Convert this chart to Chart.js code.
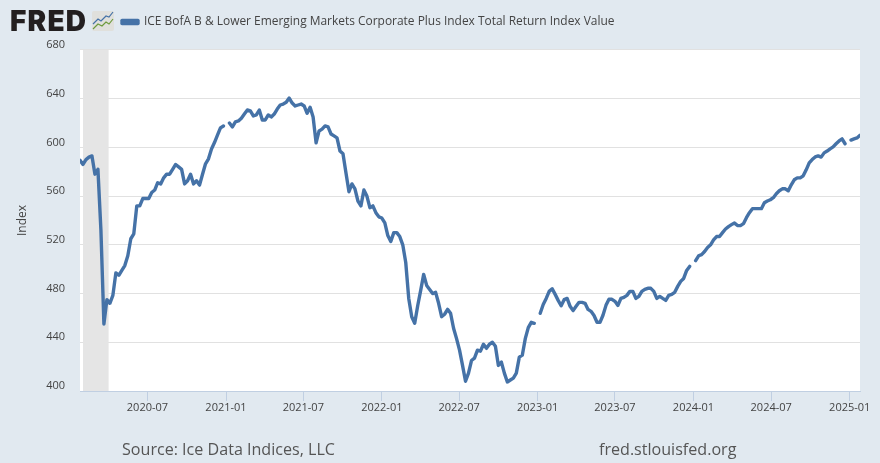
<!DOCTYPE html>
<html>
<head>
<meta charset="utf-8">
<title>ICE BofA B & Lower Emerging Markets Corporate Plus Index</title>
<script src="https://cdn.jsdelivr.net/npm/chart.js@4"></script>
<style>
  html, body { margin: 0; padding: 0; background: #e1e9f0; }
  #wrap { position: relative; width: 880px; height: 463px; overflow: hidden; font-family: "Open Sans", sans-serif; }
  canvas { position: absolute; left: 0; top: 0; }
  #logo { position: absolute; left: 10px; top: 1px; font: 900 28px/40px Inter, sans-serif; color: #231f20; letter-spacing: 1.2px; }
  #icon { position: absolute; left: 92px; top: 11px; }
  .foot { position: absolute; top: 438px; font-size: 16.1px; line-height: 22px; color: #555; }
</style>
</head>
<body>
<div id="wrap">
  <canvas id="chart" width="880" height="463"></canvas>
  <div id="logo">FRED</div>
  <svg id="icon" width="22" height="20">
    <rect width="22" height="20" rx="2" fill="#e0e0dc"/>
    <polyline points="1,13 6,8 9,10 14,5 17,6 21,1" fill="none" stroke="#4572a7" stroke-width="1.2"/>
    <polyline points="1,18 6,13 10,15 14,11 17,13 21,8" fill="none" stroke="#6d9a3c" stroke-width="1.2"/>
  </svg>
  <div class="foot" style="left:122px">Source: Ice Data Indices, LLC</div>
  <div class="foot" style="left:599px">fred.stlouisfed.org</div>
</div>
<script>
const serieNombre = "ICE BofA B & Lower Emerging Markets Corporate Plus Index Total Return Index Value";
const primeraSemana = "2020-01-25";
const ultimaSemana = "2025-01-25";
const recesion = ["2020-02-01", "2020-04-01"];
const etiquetasX = ["2020-07", "2021-01", "2021-07", "2022-01", "2022-07", "2023-01", "2023-07", "2024-01", "2024-07", "2025-01"];
const etiquetasY = [400, 440, 480, 520, 560, 600, 640, 680];

// valores semanales (null = hueco en la serie)
const valores = [
  589.5, 586, 590, 592, 593, 578, 582, 532, 455, 475,
  472, 478.5, 497, 495, 499, 503, 511, 525, 529, 552,
  552, 558, 558, 558, 563, 565, 571, 570, 575, 578,
  578, 582, 586, 584, 582, 570, 572.6, 578, 570, 572.6,
  569, 578, 586.5, 590.6, 598.7, 604, 610, 616, 617.6, null,
  620, 616.8, 621, 621.7, 624, 627.4, 630.7, 630, 625.8, 626.6,
  630.7, 622.5, 622.5, 626.6, 625, 627.4, 631.5, 634.8, 635.6, 637,
  640.5, 636.4, 634, 634.8, 635.6, 634, 628, 633, 625, 603.7,
  613.5, 615, 617.6, 616.8, 611, 609.4, 607.8, 597, 594.7, 579,
  563.6, 570, 566, 556, 552, 565, 560, 550.5, 552, 546.4,
  543, 542, 538, 527.6, 522.7, 530, 530, 526.8, 520, 505.5,
  476, 461, 455.6, 470, 482.6, 495.7, 486.7, 483.4, 480, 481,
  472, 461, 463, 467, 463.8, 451.5, 443, 433.5, 421, 408,
  414.7, 425, 427, 433.5, 432.7, 438.4, 435, 438.4, 440, 436.8,
  421, 423.7, 414.7, 407.4, 409, 410.6, 414.7, 427.8, 429.4, 443,
  452, 456.4, 455.6, null, 463.8, 471, 476, 481.8, 484, 479.3,
  474.4, 470, 475, 476, 469.5, 466, 469.5, 472.8, 472.8, 472,
  467, 465.4, 462, 456.4, 456.4, 462.2, 470.3, 475.3, 475.3, 473.6,
  470.3, 476, 476.9, 478.5, 481.8, 481.8, 476, 477.7, 481.8, 483.4,
  484.3, 484.3, 481.8, 476, 477.7, 476, 474.4, 478.5, 479.3, 481,
  485.9, 490, 492.4, 499, 502.3, null, 507, 511, 512, 514.5,
  517.8, 520, 524, 526.8, 526.8, 530, 533, 535, 536.6, 538,
  535.8, 535.8, 537.4, 542.3, 546.4, 549.7, 549.7, 549.7, 549.7, 554.6,
  556, 557, 558.7, 562, 564.4, 566, 566, 564.4, 569.3, 573.4,
  575, 575, 576.7, 581.6, 587.3, 590, 592.2, 593, 592, 595.5,
  597, 598.8, 600.4, 603, 605.3, 607, 603, null, 606, 607,
  607.8, 610
];

const DIA = 86400000;
const aDias = s => Date.parse(s.length === 7 ? s + "-01" : s) / DIA;

const inicio = aDias(primeraSemana);
const puntos = valores.map((v, i) => ({ x: inicio + i * 7, y: v }));

// fondo blanco del area, banda de recesion y leyenda en su sitio
const fondoPlugin = {
  id: "fondo",
  beforeDraw(chart) {
    const a = chart.chartArea;
    chart.ctx.fillStyle = "#ffffff";
    chart.ctx.fillRect(a.left, a.top, a.right - a.left, a.bottom - a.top);
  },
  beforeDatasetsDraw(chart) {
    const a = chart.chartArea, xs = chart.scales.x;
    const x1 = xs.getPixelForValue(aDias(recesion[0]));
    const x2 = xs.getPixelForValue(aDias(recesion[1]));
    chart.ctx.fillStyle = "#e5e5e5";
    chart.ctx.fillRect(x1, a.top, x2 - x1, a.bottom - a.top);
  },
  afterLayout(chart) {
    chart.legend.left = 112;
    chart.legend.top = 6;
  }
};

new Chart(document.getElementById("chart"), {
  type: "line",
  data: {
    datasets: [{
      label: serieNombre,
      data: puntos,
      borderColor: "#4572a7",
      backgroundColor: "#4572a7",
      borderWidth: 3.4,
      borderCapStyle: "round",
      borderJoinStyle: "round",
      pointRadius: 0,
      tension: 0,
      spanGaps: false
    }]
  },
  plugins: [fondoPlugin],
  options: {
    responsive: false,
    animation: false,
    layout: { padding: { top: 18, right: 20, bottom: 0, left: 0 } },
    plugins: {
      tooltip: { enabled: false },
      legend: {
        display: true,
        position: "top",
        align: "start",
        labels: {
          boxWidth: 16,
          boxHeight: 3,
          padding: 10,
          color: "#444444",
          font: { family: "Open Sans", size: 11.95 }
        }
      }
    },
    scales: {
      x: {
        type: "linear",
        min: inicio,
        max: aDias(ultimaSemana),
        afterBuildTicks(scale) {
          scale.ticks = etiquetasX.map(m => ({ value: aDias(m) }));
        },
        afterFit(scale) { scale.height = 72; },
        grid: { drawOnChartArea: false, drawTicks: true, tickLength: 10, tickColor: "#c0cfe2", color: "#c0cfe2" },
        border: { display: true, color: "#c0cfe2" },
        ticks: {
          autoSkip: false,
          maxRotation: 0,
          padding: 0,
          color: "#444444",
          font: { family: "Open Sans", size: 11 },
          callback(v) { return etiquetasX[etiquetasX.findIndex(m => aDias(m) === v)]; }
        }
      },
      y: {
        min: etiquetasY[0],
        max: etiquetasY[etiquetasY.length - 1],
        afterFit(scale) { scale.width = 80; },
        title: {
          display: true,
          text: "Index",
          color: "#444444",
          font: { family: "Open Sans", size: 12 },
          padding: { top: 15, bottom: 0 }
        },
        grid: { color: "#e1e1e1", lineWidth: 1, drawTicks: false },
        border: { display: false },
        afterBuildTicks(scale) {
          scale.ticks = etiquetasY.map(v => ({ value: v }));
        },
        ticks: {
          padding: 15,
          labelOffset: -5,
          color: "#444444",
          font: { family: "Open Sans", size: 11 }
        }
      }
    }
  }
});
</script>
</body>
</html>
